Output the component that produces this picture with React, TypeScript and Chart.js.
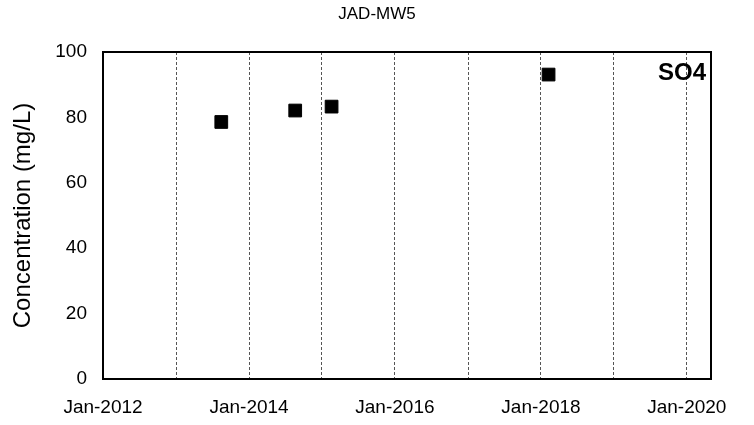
import React, { useEffect, useRef } from "react";
import { Chart, registerables } from "chart.js";

Chart.register(...registerables);

const chartTitle = "JAD-MW5";
const analyte = "SO4";
const yAxisTitle = "Concentration (mg/L)";
const sampleDates = ["2013-08-15", "2014-08-20", "2015-02-18", "2018-02-08"];
const so4Values = [78.6, 82.1, 83.3, 93.1];
const gridYears = [2012, 2013, 2014, 2015, 2016, 2017, 2018, 2019, 2020];
const xMinDate = "2012-01-01";
const xMaxDate = "2020-05-01";
const yMin = 0;
const yMax = 100;
const yStep = 20;

const monthNames = ["Jan", "Feb", "Mar", "Apr", "May", "Jun", "Jul", "Aug", "Sep", "Oct", "Nov", "Dec"];
const toMs = (s: string) => {
  const [y, m, d] = s.split("-").map(Number);
  return Date.UTC(y, m - 1, d);
};

const FONT = "'Liberation Sans', Arial, sans-serif";

export default function App() {
  const ref = useRef<HTMLCanvasElement>(null);
  useEffect(() => {
    if (!ref.current) return;
    const decor = {
      id: "decor",
      afterDraw(chart: any) {
        const { ctx, chartArea } = chart;
        ctx.save();
        ctx.strokeStyle = "#000";
        ctx.lineWidth = 2;
        ctx.setLineDash([]);
        ctx.strokeRect(chartArea.left, chartArea.top, chartArea.right - chartArea.left, chartArea.bottom - chartArea.top);
        ctx.fillStyle = "#000";
        ctx.font = `17px ${FONT}`;
        ctx.textAlign = "center";
        ctx.textBaseline = "middle";
        ctx.fillText(chartTitle, chart.width / 2, 14);
        ctx.font = `bold 24px ${FONT}`;
        ctx.textAlign = "right";
        ctx.fillText(analyte, chartArea.right - 5, 73);
        ctx.restore();
      },
    };
    const chart = new Chart(ref.current, {
      type: "scatter",
      data: {
        datasets: [
          {
            label: analyte,
            data: sampleDates.map((d, i) => ({ x: toMs(d), y: so4Values[i] })),
            pointStyle: "rect",
            pointRadius: 9,
            pointBackgroundColor: "#000",
            pointBorderColor: "#000",
            pointBorderWidth: 1,
            showLine: false,
          },
        ],
      },
      options: {
        responsive: false,
        animation: false,
        layout: { padding: { top: 52, right: 43, left: 0, bottom: 0 } },
        plugins: { legend: { display: false }, tooltip: { enabled: false }, title: { display: false } },
        scales: {
          x: {
            type: "linear",
            min: toMs(xMinDate),
            max: toMs(xMaxDate),
            afterBuildTicks: (s: any) => {
              s.ticks = gridYears.map((y) => ({ value: Date.UTC(y, 0, 1) }));
            },
            afterFit: (s: any) => {
              s.height = 46;
            },
            ticks: {
              autoSkip: false,
              maxRotation: 0,
              padding: 17,
              color: "#000",
              font: { family: FONT, size: 19 },
              callback: (v: any) => {
                const d = new Date(Number(v));
                const y = d.getUTCFullYear();
                return y % 2 === 0 ? `${monthNames[d.getUTCMonth()]}-${y}` : "";
              },
            },
            grid: { display: true, drawTicks: false, color: "#555", lineWidth: 1 },
            border: { display: false, dash: [3, 2] },
          },
          y: {
            min: yMin,
            max: yMax,
            afterFit: (s: any) => {
              s.width = 103;
            },
            ticks: { stepSize: yStep, padding: 16, color: "#000", font: { family: FONT, size: 19 } },
            grid: { display: false, drawTicks: false },
            border: { display: false },
            title: {
              display: true,
              text: yAxisTitle,
              color: "#000",
              font: { family: FONT, size: 24 },
              padding: { top: 9, bottom: 0 },
            },
          },
        },
      },
      plugins: [decor],
    } as any);
    return () => chart.destroy();
  }, []);
  return (
    <div style={{ position: "absolute", left: 0, top: 0, width: 754, height: 425, background: "#fff" }}>
      <canvas ref={ref} width={754} height={425} style={{ display: "block" }} />
    </div>
  );
}
